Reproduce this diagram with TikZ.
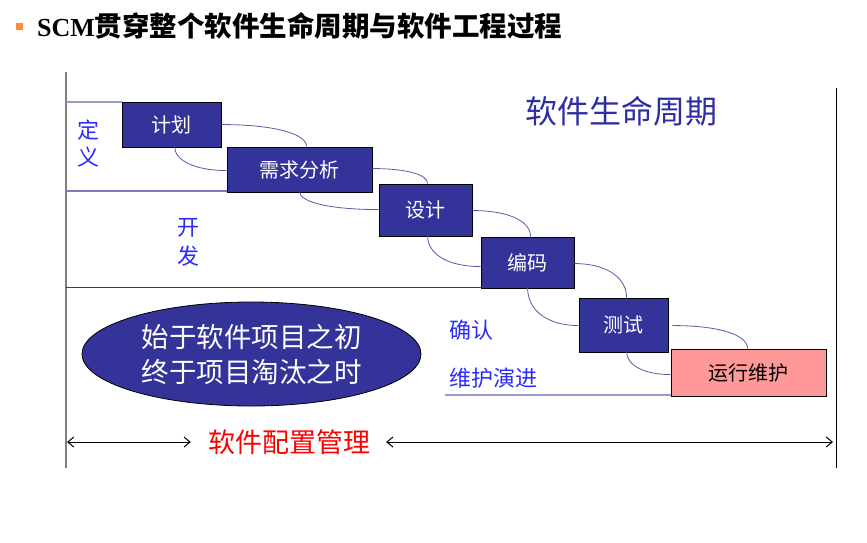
\documentclass[tikz,border=0pt]{standalone}
\usepackage{fontspec}
\setmainfont{Liberation Serif}
\newfontfamily\cjk{Noto Sans CJK SC}
\usetikzlibrary{arrows.meta,shapes.geometric,calc}
\definecolor{navy}{HTML}{333399}
\definecolor{lav}{HTML}{9999CC}
\definecolor{slate}{HTML}{5A5AA8}
\definecolor{lblue}{HTML}{2A2AFF}
\definecolor{pinkbox}{HTML}{FF9999}
\definecolor{bulletor}{HTML}{FF8C3A}
\tikzset{
  stagebox/.style={draw=black, line width=0.9pt, fill=navy, text=white, inner sep=0pt,
    font=\cjk\fontsize{20}{24}\selectfont},
  conn/.style={draw=slate, line width=0.8pt},
  bluelbl/.style={text=lblue, inner sep=0pt, align=center},
  dblarrow/.style={line width=1pt, {Straight Barb[length=6pt,width=10pt]}-{Straight Barb[length=6pt,width=10pt]}}
}
\begin{document}
\begin{tikzpicture}[x=1pt,y=-1pt]
\useasboundingbox (0,0) rectangle (867,542);
% title
\fill[bulletor] (16,23) rectangle (23,30);
\node[anchor=base west, inner sep=0pt] (title) at (37,36)
  {\fontsize{26}{30}\selectfont\bfseries SCM{\cjk\fontsize{27.5}{30}\selectfont\bfseries 贯穿整个软件生命周期与软件工程过程}};
% frame lines
\draw[gray, line width=1.8pt] (66,72) -- (66,468);
\draw[black, line width=0.8pt] (836,88) -- (836,468);
\draw[lav, line width=2pt] (66,102) -- (122,102);
\draw[slate!80, line width=1.3pt] (66,191) -- (228,191);
\draw[navy, line width=1pt] (66,287) -- (481,287);
\draw[lav, line width=2pt] (445,395) -- (680,395);
% stages
\node[stagebox, minimum width=99pt, minimum height=45pt] (jh) at (171.5,124.5) {计划};
\node[stagebox, minimum width=145pt, minimum height=45pt] (xq) at (299.5,169.5) {需求分析};
\node[stagebox, minimum width=93pt, minimum height=52pt] (sj) at (425.5,210) {设计};
\node[stagebox, minimum width=93pt, minimum height=51pt] (bm) at (527.5,262.5) {编码};
\node[stagebox, minimum width=89pt, minimum height=54pt] (cs) at (623.5,325) {测试};
\node[stagebox, fill=pinkbox, text=black, minimum width=155pt, minimum height=47pt] (yx) at (748.5,372.5) {运行维护};
% connectors
\draw[conn] ($(jh.north east)+(0,23)$) .. controls +(52,0) and +(0,-13) .. ($(xq.north west)+(80,0)$);
\draw[conn] ($(jh.north west)+(53,45)$) .. controls +(0,14) and +(-31,0) .. ($(xq.north west)+(0,24)$);
\draw[conn] ($(xq.north east)+(0,22)$) .. controls +(34,0) and +(0,-9) .. ($(sj.north west)+(49,0)$);
\draw[conn] ($(xq.north west)+(73,45)$) .. controls +(0,11) and +(-47,0) .. ($(sj.north west)+(0,26)$);
\draw[conn] ($(sj.north east)+(0,27)$) .. controls +(35,0) and +(0,-16) .. ($(bm.north west)+(50,0)$);
\draw[conn] ($(sj.north west)+(49,52)$) .. controls +(0,19) and +(-32,0) .. ($(bm.north west)+(0,30)$);
\draw[conn] ($(bm.north east)+(0,27)$) .. controls +(32,0) and +(0,-20) .. ($(cs.north west)+(48,0)$);
\draw[conn] ($(bm.north west)+(47,51)$) .. controls +(0,23) and +(-31,0) .. ($(cs.north west)+(0,28)$);
\draw[conn] ($(cs.north east)+(4,28)$) .. controls +(46,0) and +(0,-14) .. ($(yx.north west)+(77,0)$);
\draw[conn] ($(cs.north west)+(48,54)$) .. controls +(0,14) and +(-26,0) .. ($(yx.north west)+(0,26)$);
% labels
\node[inner sep=0pt, text=navy!90!blue, font=\cjk\fontsize{32}{36}\selectfont] (life) at (621,111) {软件生命周期};
\node[bluelbl, font=\cjk\fontsize{22}{27}\selectfont] (dy) at (88,143.5) {定\\义};
\node[bluelbl, font=\cjk\fontsize{22}{29}\selectfont] (kf) at (188,242.5) {开\\发};
\node[bluelbl, anchor=west, font=\cjk\fontsize{22}{26}\selectfont] (qr) at (449,330) {确认};
\node[bluelbl, anchor=west, font=\cjk\fontsize{22}{26}\selectfont] (wh) at (449,378) {维护演进};
% ellipse
\node[ellipse, draw=black, line width=0.8pt, fill=navy, text=white, inner sep=0pt,
  minimum width=339pt, minimum height=104pt, align=center,
  font=\cjk\fontsize{27.5}{35}\selectfont] (el) at (251.5,354) {始于软件项目之初\\终于项目淘汰之时};
% SCM arrows
\node[inner sep=0pt, text=red, font=\cjk\fontsize{27}{30}\selectfont] (scm) at (289,442) {软件配置管理};
\coordinate (la) at (67,442);
\coordinate (ra) at (833,442);
\draw[dblarrow] (la) -- ($(scm.west)+(-17,0)$);
\draw[dblarrow] ($(scm.east)+(16,0)$) -- (ra);
\end{tikzpicture}
\end{document}
